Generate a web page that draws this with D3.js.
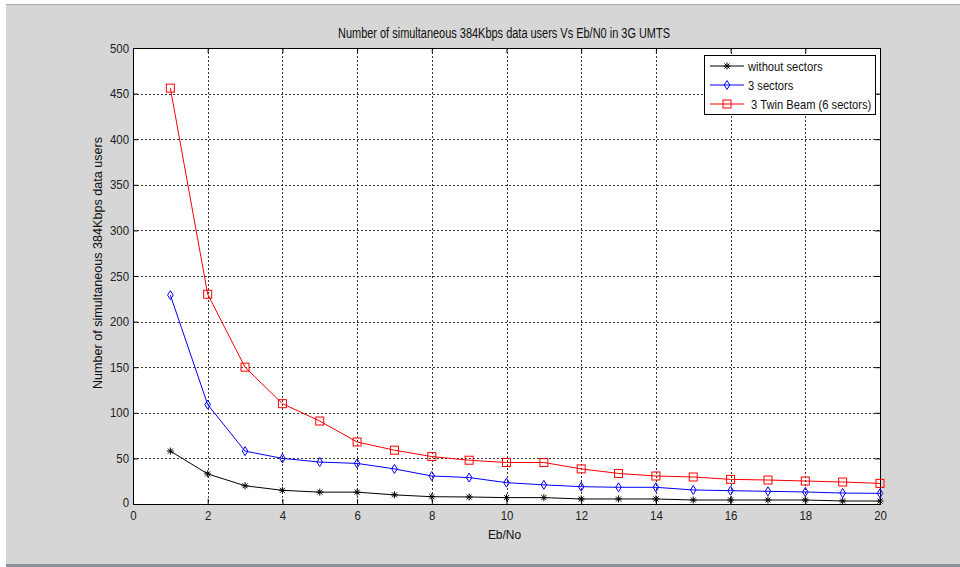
<!DOCTYPE html>
<html>
<head>
<meta charset="utf-8">
<script src="https://cdn.jsdelivr.net/npm/d3@7"></script>
<style>
  body { margin: 0; background: #fff; }
  svg { display: block; }
</style>
</head>
<body>
<script>
var ebno = [1, 2, 3, 4, 5, 6, 7, 8, 9, 10, 11, 12, 13, 14, 15, 16, 17, 18, 19, 20];
var withoutSectors = [58, 33, 20, 15, 13, 13, 10, 8, 7.7, 7, 7, 5.5, 5.5, 5.5, 4.4, 4.4, 4.4, 4.4, 3.3, 3.3];
var threeSectors = [229, 109, 58, 50, 46, 44.5, 38.5, 30.7, 29, 23.4, 21, 19, 18.3, 18.3, 15.4, 14.6, 13.9, 13.2, 12, 11.7];
var twinBeam = [456, 230, 150, 110, 91, 68, 59, 52, 48, 45.5, 45.5, 38.5, 33.5, 30.7, 29.6, 27, 26.3, 25.2, 24.1, 22.6];
var seriesNames = ['without sectors', '3 sectors', ' 3 Twin Beam (6 sectors)'];
var xTicks = [0, 2, 4, 6, 8, 10, 12, 14, 16, 18, 20];
var yTicks = [0, 50, 100, 150, 200, 250, 300, 350, 400, 450, 500];

var W = 960, H = 567;
var margin = {top: 48, right: 80, bottom: 63, left: 133};
var width = W - margin.left - margin.right,
    height = H - margin.top - margin.bottom;

var font = '"Liberation Sans", Arial, sans-serif';

var svg = d3.select('body').append('svg')
    .attr('width', W)
    .attr('height', H);

// window background
svg.append('rect').attr('width', W).attr('height', H).attr('fill', '#fff');
svg.append('rect').attr('x', 6).attr('y', 4).attr('width', W - 6).attr('height', H - 4).attr('fill', '#d6d6d6');
svg.append('line').attr('x1', 6).attr('x2', W).attr('y1', 4.5).attr('y2', 4.5).attr('stroke', '#a8a8a8');
svg.append('rect').attr('x', 6).attr('y', 564).attr('width', W - 6).attr('height', 3).attr('fill', '#8d939b');

var g = svg.append('g').attr('transform', 'translate(' + margin.left + ',' + margin.top + ')');

var x = d3.scaleLinear().domain([0, 20]).range([0, width]);
var y = d3.scaleLinear().domain([0, 500]).range([height, 0]);

g.append('rect').attr('width', width).attr('height', height).attr('fill', '#fff');

// grid
g.append('g').selectAll('line')
    .data(xTicks.slice(1, -1))
    .enter().append('line')
    .attr('x1', d => Math.round(x(d)) + 0.5).attr('x2', d => Math.round(x(d)) + 0.5)
    .attr('y1', 0).attr('y2', height)
    .attr('stroke', '#000').attr('stroke-width', 0.8)
    .attr('stroke-dasharray', '2,2');
g.append('g').selectAll('line')
    .data(yTicks.slice(1, -1))
    .enter().append('line')
    .attr('y1', d => Math.round(y(d)) + 0.5).attr('y2', d => Math.round(y(d)) + 0.5)
    .attr('x1', 0).attr('x2', width)
    .attr('stroke', '#000').attr('stroke-width', 0.8)
    .attr('stroke-dasharray', '2,2');

// axes with inward ticks (MATLAB style)
function styleAxis(sel) {
    sel.select('.domain').remove();
    sel.selectAll('text')
        .attr('font-family', font).attr('font-size', 13).attr('fill', '#222')
        .attr('transform', 'scale(0.88,1)');
    sel.selectAll('line').attr('stroke', '#000');
}
g.append('g').attr('transform', 'translate(0,' + height + ')')
    .call(d3.axisBottom(x).tickValues(xTicks).tickSize(-5).tickPadding(7))
    .call(styleAxis);
g.append('g')
    .call(d3.axisTop(x).tickValues(xTicks).tickSize(-5).tickFormat(''))
    .call(styleAxis);
var yAxisG = g.append('g')
    .call(d3.axisLeft(y).tickValues(yTicks).tickSize(-5).tickPadding(4.5))
    .call(styleAxis);
// zero label sits a touch above the corner
yAxisG.selectAll('.tick').filter(d => d === 0).select('text').attr('y', -2);
g.append('g').attr('transform', 'translate(' + width + ',0)')
    .call(d3.axisRight(y).tickValues(yTicks).tickSize(-5).tickFormat(''))
    .call(styleAxis);

g.append('rect').attr('x', 0.5).attr('y', 0.5).attr('width', width).attr('height', height)
    .attr('fill', 'none').attr('stroke', '#000').attr('stroke-width', 1);

// series
var series = [
    {name: seriesNames[0], values: withoutSectors, color: '#000', marker: 'star'},
    {name: seriesNames[1], values: threeSectors, color: '#0000ff', marker: 'diamond'},
    {name: seriesNames[2], values: twinBeam, color: '#ff0000', marker: 'square'}
];

var line = d3.line().x(d => x(d[0])).y(d => y(d[1]));

function drawMarker(sel, type, color) {
    if (type === 'star') {
        sel.append('path').attr('d', 'M-3.5,0H3.5M0,-3.5V3.5M-2.5,-2.5L2.5,2.5M-2.5,2.5L2.5,-2.5')
            .attr('stroke', color).attr('stroke-width', 1).attr('fill', 'none');
    } else if (type === 'diamond') {
        sel.append('path').attr('d', 'M0,-4.5L2.8,0L0,4.5L-2.8,0Z')
            .attr('stroke', color).attr('stroke-width', 1).attr('fill', 'none');
    } else {
        sel.append('rect').attr('x', -4).attr('y', -4).attr('width', 8).attr('height', 8)
            .attr('stroke', color).attr('stroke-width', 1).attr('fill', 'none');
    }
}

series.forEach(function (s) {
    var pts = ebno.map((e, i) => [e, s.values[i]]);
    g.append('path').datum(pts)
        .attr('d', line)
        .attr('fill', 'none')
        .attr('stroke', s.color)
        .attr('stroke-width', 1);
    g.append('g').selectAll('g')
        .data(pts)
        .enter().append('g')
        .attr('transform', d => 'translate(' + x(d[0]) + ',' + y(d[1]) + ')')
        .each(function () { drawMarker(d3.select(this), s.marker, s.color); });
});

// legend
var lg = g.append('g').attr('transform', 'translate(' + (704 - margin.left) + ',' + (55 - margin.top) + ')');
lg.append('rect').attr('x', 0.5).attr('y', 0.5).attr('width', 171).attr('height', 59)
    .attr('fill', '#fff').attr('stroke', '#000');
series.forEach(function (s, i) {
    var ly = 11 + i * 19;
    lg.append('line').attr('x1', 6).attr('x2', 40).attr('y1', ly).attr('y2', ly)
        .attr('stroke', s.color);
    drawMarker(lg.append('g').attr('transform', 'translate(23,' + ly + ')'), s.marker, s.color);
    lg.append('text')
        .attr('transform', 'translate(44,' + (ly + 4.5) + ') scale(0.86,1)')
        .attr('font-family', font).attr('font-size', 13).attr('fill', '#111')
        .attr('xml:space', 'preserve')
        .text(s.name);
});

// titles
svg.append('text')
    .attr('x', 338).attr('y', 38)
    .attr('textLength', 332).attr('lengthAdjust', 'spacingAndGlyphs')
    .attr('font-family', font).attr('font-size', 14).attr('fill', '#111')
    .text('Number of simultaneous 384Kbps data users Vs Eb/N0 in 3G UMTS');

svg.append('text')
    .attr('transform', 'translate(' + (margin.left + width / 2 - 2) + ',539) scale(0.92,1)')
    .attr('text-anchor', 'middle')
    .attr('font-family', font).attr('font-size', 13).attr('fill', '#111')
    .text('Eb/No');

svg.append('text')
    .attr('transform', 'translate(102,263) rotate(-90)')
    .attr('text-anchor', 'middle')
    .attr('font-family', font).attr('font-size', 12.6).attr('fill', '#111')
    .text('Number of simultaneous 384Kbps data users');
</script>
</body>
</html>
